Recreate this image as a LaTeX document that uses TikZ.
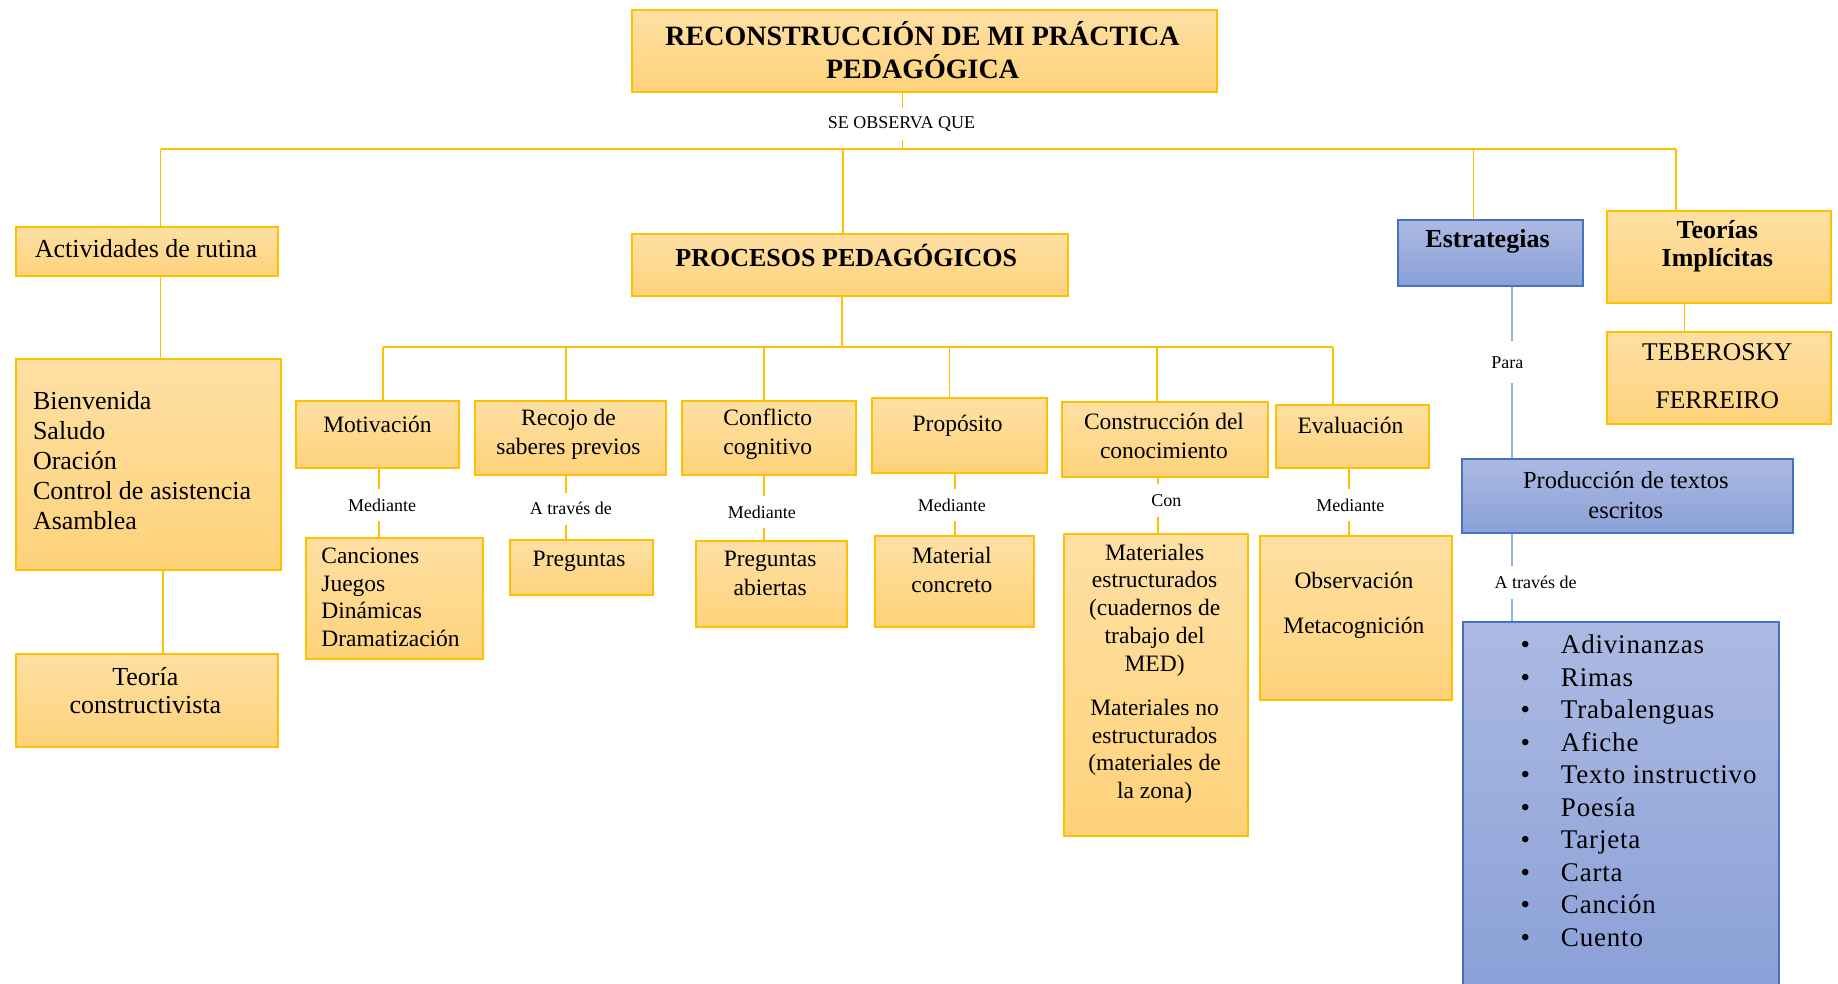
\documentclass[tikz,border=0pt]{standalone}
\usepackage{fontspec}
\setmainfont{Liberation Serif}
\newfontfamily\listfont[LetterSpace=3]{Liberation Serif}
\usetikzlibrary{calc}
\definecolor{ytop}{RGB}{254,224,164}
\definecolor{ybot}{RGB}{254,210,122}
\definecolor{ybrd}{RGB}{255,192,0}
\definecolor{btop}{RGB}{172,186,226}
\definecolor{bbot}{RGB}{138,160,215}
\definecolor{bbrd}{RGB}{70,114,196}
\definecolor{bline}{RGB}{141,180,226}
\def\pxu{1.1722pt}
\newcommand\ftitle{\fontsize{28}{32.8}\selectfont\bfseries}
\newcommand\fhead{\fontsize{26}{28}\selectfont\bfseries}
\newcommand\fbig{\fontsize{26}{30}\selectfont}
\newcommand\fmid{\fontsize{23.5}{29}\selectfont}
\newcommand\fsm{\fontsize{18}{20}\selectfont}
\newcommand\mkbox[6]{\node[#1, anchor=north west, minimum width={(#4-#2)*\pxu}, minimum height={(#5-#3)*\pxu}] (#6) at (#2,#3) {};}
\begin{document}
\begin{tikzpicture}[x=1.1722pt,y=-1.1722pt,
  ybox/.style={draw=ybrd, line width=2pt, top color=ytop, bottom color=ybot, inner sep=0, rectangle},
  bbox/.style={draw=bbrd, line width=2pt, top color=btop, bottom color=bbot, inner sep=0, rectangle},
  yl/.style={draw=ybrd, line width=1.8pt},
  bl/.style={draw=bline, line width=1.8pt},
  tx/.style={inner sep=0, align=center},
  lb/.style={inner sep=0, minimum height=32pt, font=\fsm}]
\useasboundingbox[fill=white] (0,0) rectangle (1568,839);
% boxes
\mkbox{ybox}{538}{8}{1037}{78}{title}
\mkbox{ybox}{13}{193}{236}{235}{act}
\mkbox{ybox}{13}{305}{239}{485}{bien}
\mkbox{ybox}{13}{557}{236}{636}{teoc}
\mkbox{ybox}{538}{199}{910}{252}{proc}
\mkbox{ybox}{252}{341}{391}{398}{mot}
\mkbox{ybox}{404}{341}{567}{404}{rec}
\mkbox{ybox}{581}{341}{729}{404}{con}
\mkbox{ybox}{743}{339}{892}{403}{pro}
\mkbox{ybox}{905}{342}{1081}{406}{cons}
\mkbox{ybox}{1088}{345}{1218}{398}{eva}
\mkbox{ybox}{260}{458}{411}{561}{can}
\mkbox{ybox}{434}{460}{556}{507}{pre}
\mkbox{ybox}{593}{461}{722}{534}{prea}
\mkbox{ybox}{746}{456}{881}{534}{mat}
\mkbox{ybox}{907}{455}{1064}{712}{mats}
\mkbox{ybox}{1074}{456}{1238}{596}{obs}
\mkbox{bbox}{1192}{187}{1350}{243}{est}
\mkbox{bbox}{1246}{391}{1529}{454}{prod}
\mkbox{bbox}{1247}{530}{1517}{846}{list}
\mkbox{ybox}{1370}{179}{1561}{258}{teo}
\mkbox{ybox}{1370}{282}{1561}{361}{teb}
% texts
\node[tx, font=\ftitle] (t-title) at (787,43) {RECONSTRUCCIÓN DE MI PRÁCTICA\\PEDAGÓGICA};
\node[tx, font=\fbig] (t-act) at (124.5,212) {Actividades de rutina};
\node[tx, font=\fbig, align=left, anchor=west] (t-bien) at (28,393) {Bienvenida\\Saludo\\Oración\\Control de asistencia\\Asamblea};
\node[tx, font=\fontsize{26}{28}\selectfont] (t-teoc) at (124,589) {Teoría\\constructivista};
\node[tx, font=\fhead] (t-proc) at (722,218) {PROCESOS PEDAGÓGICOS};
\node[tx, font=\fmid] (t-mot) at (322,362) {Motivación};
\node[tx, font=\fmid] (t-rec) at (485,370.5) {Recojo de\\saberes previos};
\node[tx, font=\fmid] (t-con) at (655,370.5) {Conflicto\\cognitivo};
\node[tx, font=\fmid] (t-pro) at (817,363) {Propósito};
\node[tx, font=\fmid] (t-cons) at (993,372) {Construcción del\\conocimiento};
\node[tx, font=\fmid] (t-eva) at (1152,363) {Evaluación};
\node[tx, font=\fontsize{23.5}{27.8}\selectfont, align=left, anchor=west] (t-can) at (274,509.5) {Canciones\\Juegos\\Dinámicas\\Dramatización};
\node[tx, font=\fmid] (t-pre) at (494,479) {Preguntas};
\node[tx, font=\fmid] (t-prea) at (657,489.5) {Preguntas\\abiertas};
\node[tx, font=\fmid] (t-mat) at (812,486.5) {Material\\concreto};
\node[tx, font=\fontsize{23.5}{27.8}\selectfont] (t-mats1) at (985,520.5) {Materiales\\estructurados\\(cuadernos de\\trabajo del\\MED)};
\node[tx, font=\fontsize{23.5}{27.8}\selectfont] (t-mats2) at (985,641) {Materiales no\\estructurados\\(materiales de\\la zona)};
\node[tx, font=\fontsize{23.5}{44.5}\selectfont] (t-obs) at (1155,516.5) {Observación\\Metacognición};
\node[tx, font=\fhead] (t-est) at (1269,206) {Estrategias};
\node[tx, font=\fontsize{24.5}{30.5}\selectfont] (t-prod) at (1387,422.5) {Producción de textos\\escritos};
\node[tx, font=\fhead] (t-teo) at (1465,210) {Teorías\\Implícitas};
\node[tx, font=\fontsize{25.5}{48}\selectfont] (t-teb) at (1465,320.5) {TEBEROSKY\\FERREIRO};
\node[inner sep=0, anchor=north west, font=\listfont\fontsize{27}{32.5}\selectfont] (t-list) at (1297,538) {%
\begin{tabular}{@{}l@{\hspace{31pt}}l@{}}
\textbullet & Adivinanzas\\
\textbullet & Rimas\\
\textbullet & Trabalenguas\\
\textbullet & Afiche\\
\textbullet & Texto instructivo\\
\textbullet & Poesía\\
\textbullet & Tarjeta\\
\textbullet & Carta\\
\textbullet & Canción\\
\textbullet & Cuento
\end{tabular}};
% connector labels
\node[lb] (l-top) at (769,106) {SE OBSERVA QUE};
\node[lb] (l-mot) at (326,431) {Mediante};
\node[lb] (l-rec) at (487,434) {A través de};
\node[lb] (l-con) at (650,437) {Mediante};
\node[lb] (l-pro) at (812,431) {Mediante};
\node[lb] (l-cons) at (995,427) {Con};
\node[lb] (l-eva) at (1152,431) {Mediante};
\node[lb, minimum height=42pt] (l-est) at (1286,309) {Para};
\node[lb] (l-prod) at (1310,497) {A través de};
% coordinates
\coordinate (hL) at (137,127);
\coordinate (hP) at (719,127);
\coordinate (h0) at (770,127);
\coordinate (hE) at (1257,127);
\coordinate (hR) at (1430,127);
\coordinate (xb) at (139,0);
\coordinate (pc) at (718,296);
\coordinate (p1) at (327,296);
\coordinate (p2) at (483,296);
\coordinate (p3) at (652,296);
\coordinate (p4) at (810,296);
\coordinate (p5) at (987,296);
\coordinate (p6) at (1137,296);
\coordinate (x1) at (323,0);
\coordinate (x2) at (483,0);
\coordinate (x3) at (652,0);
\coordinate (x4) at (815,0);
\coordinate (x5) at (988,0);
\coordinate (x6) at (1151,0);
\coordinate (xs) at (1290,0);
\coordinate (xt) at (1437,0);
% connectors
\draw[yl] (hL) -- (hR);
\draw[yl] (title.south -| h0) -- (l-top.north -| h0);
\draw[yl] (l-top.south -| h0) -- (h0);
\draw[yl] (hL) -- (act.north -| hL);
\draw[yl] (hP) -- (proc.north -| hP);
\draw[yl] (hE) -- (est.north -| hE);
\draw[yl] (hR) -- (teo.north -| hR);
\draw[yl] (act.south -| hL) -- (bien.north -| hL);
\draw[yl] (bien.south -| xb) -- (teoc.north -| xb);
\draw[yl] (proc.south -| pc) -- (pc);
\draw[yl] (p1) -- (p6);
\draw[yl] (p1) -- (mot.north -| p1);
\draw[yl] (p2) -- (rec.north -| p2);
\draw[yl] (p3) -- (con.north -| p3);
\draw[yl] (p4) -- (pro.north -| p4);
\draw[yl] (p5) -- (cons.north -| p5);
\draw[yl] (p6) -- (eva.north -| p6);
\draw[yl] (mot.south -| x1) -- (l-mot.north -| x1);
\draw[yl] (l-mot.south -| x1) -- (can.north -| x1);
\draw[yl] (rec.south -| x2) -- (l-rec.north -| x2);
\draw[yl] (l-rec.south -| x2) -- (pre.north -| x2);
\draw[yl] (con.south -| x3) -- (l-con.north -| x3);
\draw[yl] (l-con.south -| x3) -- (prea.north -| x3);
\draw[yl] (pro.south -| x4) -- (l-pro.north -| x4);
\draw[yl] (l-pro.south -| x4) -- (mat.north -| x4);
\draw[yl] (cons.south -| x5) -- (l-cons.north -| x5);
\draw[yl] (l-cons.south -| x5) -- (mats.north -| x5);
\draw[yl] (eva.south -| x6) -- (l-eva.north -| x6);
\draw[yl] (l-eva.south -| x6) -- (obs.north -| x6);
\draw[yl] (teo.south -| xt) -- (teb.north -| xt);
\draw[bl] (est.south -| xs) -- (l-est.north -| xs);
\draw[bl] (l-est.south -| xs) -- (prod.north -| xs);
\draw[bl] (prod.south -| xs) -- (l-prod.north -| xs);
\draw[bl] (l-prod.south -| xs) -- (list.north -| xs);
\end{tikzpicture}
\end{document}
